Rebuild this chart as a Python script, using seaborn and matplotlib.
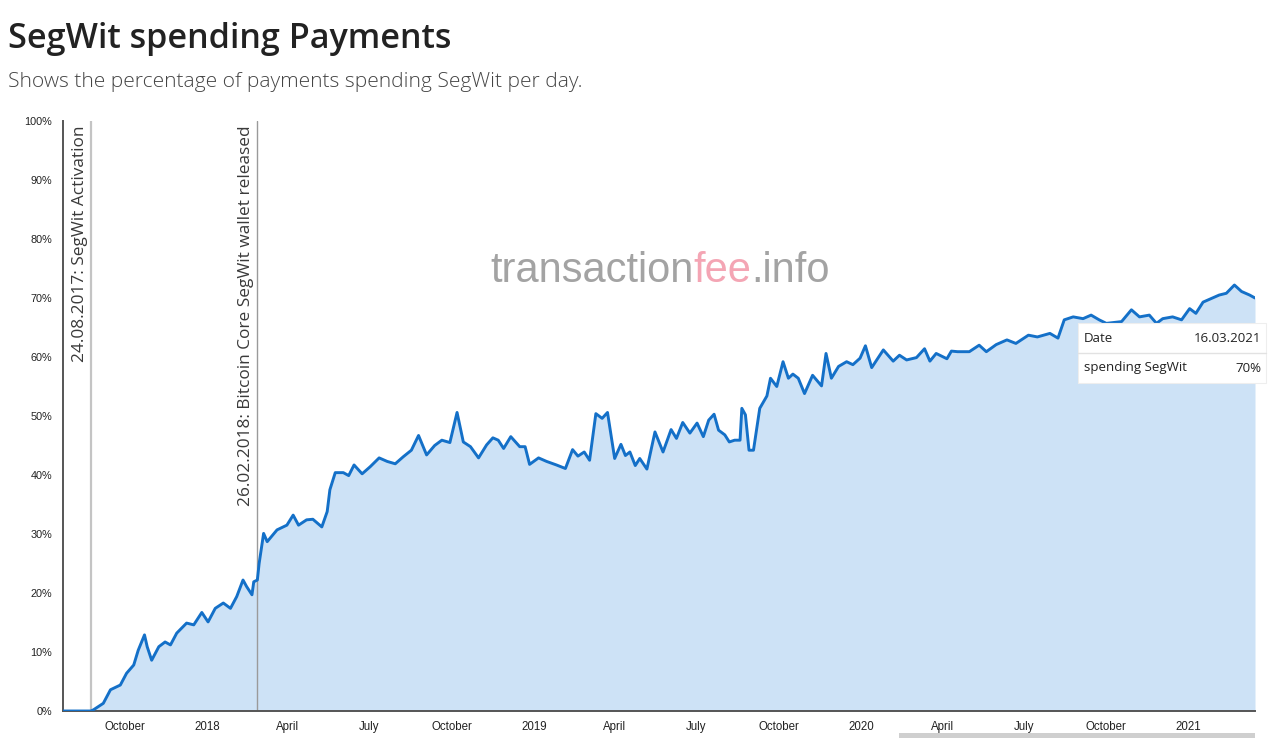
import matplotlib
matplotlib.use("Agg")
import matplotlib.pyplot as plt
import matplotlib.dates as mdates
from matplotlib.patches import Rectangle
from matplotlib.lines import Line2D
from matplotlib.ticker import FixedLocator, FixedFormatter
import pandas as pd
import seaborn as sns

# Share of daily payments spending SegWit outputs (%)
dates = [
    "2017-07-24", "2017-08-24", "2017-08-27", "2017-09-07", "2017-09-15", "2017-09-26",
    "2017-10-03", "2017-10-11", "2017-10-16", "2017-10-23", "2017-10-26", "2017-10-31",
    "2017-11-08", "2017-11-15", "2017-11-21", "2017-11-28", "2017-12-09", "2017-12-17",
    "2017-12-26", "2018-01-02", "2018-01-10", "2018-01-19", "2018-01-27", "2018-02-03",
    "2018-02-10", "2018-02-14", "2018-02-20", "2018-02-22", "2018-02-26", "2018-02-28",
    "2018-03-05", "2018-03-09", "2018-03-20", "2018-03-31", "2018-04-07", "2018-04-13",
    "2018-04-22", "2018-04-29", "2018-05-09", "2018-05-15", "2018-05-18", "2018-05-24",
    "2018-06-02", "2018-06-08", "2018-06-14", "2018-06-23", "2018-07-02", "2018-07-12",
    "2018-07-21", "2018-07-30", "2018-08-08", "2018-08-17", "2018-08-25", "2018-09-03",
    "2018-09-12", "2018-09-20", "2018-09-29", "2018-10-07", "2018-10-14", "2018-10-22",
    "2018-10-31", "2018-11-09", "2018-11-16", "2018-11-22", "2018-11-28", "2018-12-06",
    "2018-12-16", "2018-12-22", "2018-12-27", "2019-01-06", "2019-01-15", "2019-01-26",
    "2019-02-05", "2019-02-13", "2019-02-19", "2019-02-26", "2019-03-04", "2019-03-11",
    "2019-03-18", "2019-03-24", "2019-04-01", "2019-04-08", "2019-04-13", "2019-04-18",
    "2019-04-24", "2019-04-29", "2019-05-07", "2019-05-16", "2019-05-25", "2019-06-03",
    "2019-06-09", "2019-06-16", "2019-06-24", "2019-07-02", "2019-07-09", "2019-07-15",
    "2019-07-21", "2019-07-26", "2019-08-02", "2019-08-07", "2019-08-13", "2019-08-19",
    "2019-08-21", "2019-08-25", "2019-08-29", "2019-09-03", "2019-09-10", "2019-09-18",
    "2019-09-22", "2019-09-29", "2019-10-06", "2019-10-12", "2019-10-17", "2019-10-23",
    "2019-10-30", "2019-11-08", "2019-11-18", "2019-11-23", "2019-11-29", "2019-12-07",
    "2019-12-16", "2019-12-23", "2019-12-31", "2020-01-06", "2020-01-13", "2020-01-20",
    "2020-01-26", "2020-02-06", "2020-02-13", "2020-02-21", "2020-03-03", "2020-03-12",
    "2020-03-18", "2020-03-25", "2020-04-06", "2020-04-11", "2020-04-18", "2020-05-01",
    "2020-05-12", "2020-05-20", "2020-05-31", "2020-06-12", "2020-06-22", "2020-07-06",
    "2020-07-16", "2020-07-30", "2020-08-08", "2020-08-15", "2020-08-25", "2020-09-05",
    "2020-09-14", "2020-09-23", "2020-10-01", "2020-10-18", "2020-10-29", "2020-11-07",
    "2020-11-18", "2020-11-26", "2020-12-03", "2020-12-14", "2020-12-24", "2021-01-02",
    "2021-01-09", "2021-01-17", "2021-01-26", "2021-02-04", "2021-02-12", "2021-02-21",
    "2021-03-01", "2021-03-10", "2021-03-16",
]
segwit_pct = [
    0.0, 0.0, 0.2, 1.3, 3.6, 4.4,
    6.4, 7.8, 10.3, 12.9, 10.9, 8.6,
    10.9, 11.7, 11.2, 13.2, 14.9, 14.6,
    16.7, 15.1, 17.4, 18.3, 17.4, 19.4,
    22.2, 21.1, 19.7, 21.9, 22.2, 25.0,
    30.1, 28.7, 30.7, 31.5, 33.2, 31.5,
    32.4, 32.5, 31.2, 33.8, 37.5, 40.4,
    40.4, 39.9, 41.7, 40.2, 41.4, 42.9,
    42.3, 41.9, 43.1, 44.2, 46.7, 43.4,
    45.0, 45.9, 45.5, 50.6, 45.6, 44.8,
    42.9, 45.1, 46.3, 45.9, 44.5, 46.5,
    44.8, 44.8, 41.8, 42.9, 42.3, 41.7,
    41.1, 44.3, 43.2, 43.9, 42.5, 50.4,
    49.6, 50.6, 42.8, 45.2, 43.3, 43.9,
    41.6, 42.8, 41.0, 47.3, 43.9, 47.7,
    46.2, 48.9, 47.1, 48.8, 46.5, 49.3,
    50.3, 47.6, 46.8, 45.6, 45.9, 45.9,
    51.3, 50.2, 44.2, 44.2, 51.3, 53.4,
    56.4, 55.0, 59.2, 56.4, 57.1, 56.4,
    53.8, 56.9, 55.1, 60.6, 56.4, 58.4,
    59.2, 58.7, 59.8, 61.9, 58.2, 59.8,
    61.2, 59.3, 60.3, 59.5, 59.9, 61.4,
    59.3, 60.6, 59.7, 61.0, 60.9, 60.9,
    62.0, 60.9, 62.1, 62.9, 62.3, 63.7,
    63.4, 64.0, 63.2, 66.3, 66.8, 66.5,
    67.1, 66.3, 65.7, 66.0, 68.0, 66.8,
    67.1, 65.7, 66.5, 66.8, 66.3, 68.2,
    67.4, 69.3, 69.9, 70.5, 70.8, 72.2,
    71.1, 70.5, 70.0,
]

# Marked events
event_dates = ["2017-08-24", "2018-02-26"]
event_labels = ["24.08.2017: SegWit Activation", "26.02.2018: Bitcoin Core SegWit wallet released"]
event_colors = ["#c4c4c4", "#9a9a9a"]
event_widths = [1.6, 1.0]

# Quarterly x-axis ticks
tick_dates = ["2017-10-01", "2018-01-01", "2018-04-01", "2018-07-01", "2018-10-01",
              "2019-01-01", "2019-04-01", "2019-07-01", "2019-10-01", "2020-01-01",
              "2020-04-01", "2020-07-01", "2020-10-01", "2021-01-01"]
tick_labels = ["October", "2018", "April", "July", "October", "2019", "April", "July",
               "October", "2020", "April", "July", "October", "2021"]
y_ticks = [0, 10, 20, 30, 40, 50, 60, 70, 80, 90, 100]

df = pd.DataFrame({"date": pd.to_datetime(dates), "pct": segwit_pct})

sns.set_style("white")
plt.rcParams["font.family"] = ["Liberation Sans", "DejaVu Sans"]

W, H = 1273, 738
fig = plt.figure(figsize=(W / 100, H / 100), dpi=100)
fig.patch.set_facecolor("white")

ax = fig.add_axes([63 / W, (H - 711) / H, (1255 - 63) / W, (711 - 121) / H])

line_color = "#1470c8"
fill_color = "#cde2f6"

ax.fill_between(df["date"], 0, df["pct"], color=fill_color, linewidth=0, zorder=1)
sns.lineplot(data=df, x="date", y="pct", ax=ax, color=line_color, linewidth=2.1, zorder=3)

x0, x1 = pd.Timestamp("2017-07-24"), pd.Timestamp("2021-03-16")
ax.set_xlim(x0, x1)
ax.set_ylim(0, 100)

# Event markers with rotated captions
for d, lab, c, lw in zip(event_dates, event_labels, event_colors, event_widths):
    dt = pd.Timestamp(d)
    ax.axvline(dt, color=c, linewidth=lw, zorder=2)
    ax.annotate(lab, xy=(dt, 1.0), xycoords=("data", "axes fraction"),
                xytext=(-3, -4), textcoords="offset pixels",
                rotation=90, ha="right", va="top", fontsize=12.4,
                color="#3a3a3a", family=["Open Sans", "DejaVu Sans"], zorder=4)

# Axes styling
for s in ["top", "right"]:
    ax.spines[s].set_visible(False)
for s in ["left", "bottom"]:
    ax.spines[s].set_color("#555555")
    ax.spines[s].set_linewidth(1.4)

ax.xaxis.set_major_locator(FixedLocator([mdates.date2num(pd.Timestamp(t)) for t in tick_dates]))
ax.xaxis.set_major_formatter(FixedFormatter(tick_labels))
ax.yaxis.set_major_locator(FixedLocator(y_ticks))
ax.yaxis.set_major_formatter(FixedFormatter([f"{v}%" for v in y_ticks]))
ax.tick_params(axis="both", direction="out", length=5, width=1.1, color="#555555",
               labelsize=7.8, labelcolor="#222222", pad=3)
ax.tick_params(axis="x", pad=2, labelsize=8.3)
ax.set_xlabel("")
ax.set_ylabel("")
ax.grid(False)

# Title and description
fig.text(8 / W, 1 - 48 / H, "SegWit spending Payments", fontsize=24.6, fontweight="semibold",
         color="#222222", ha="left", va="baseline", family=["Open Sans", "DejaVu Sans"])
fig.text(8 / W, 1 - 87 / H, "Shows the percentage of payments spending SegWit per day.",
         fontsize=15.1, fontweight="light", color="#444444", ha="left", va="baseline",
         family=["Open Sans", "DejaVu Sans"])

# Overlay in pixel coordinates for watermark, hover box and scrollbar
ov = fig.add_axes([0, 0, 1, 1], zorder=10)
ov.set_xlim(0, W)
ov.set_ylim(H, 0)
ov.axis("off")
ov.patch.set_alpha(0)

fig.canvas.draw()
renderer = fig.canvas.get_renderer()
parts = [("transaction", "#a3a3a3", "normal"), ("fee", "#f4a5b4", "normal"), (".info", "#a3a3a3", "normal")]
xpos = 490
for txt, col, wt in parts:
    t = ov.text(xpos, 282, txt, fontsize=30, color=col, fontweight=wt, ha="left",
                va="baseline", family=["Liberation Sans", "DejaVu Sans"])
    bb = t.get_window_extent(renderer=renderer)
    xpos += bb.width

# Hover box for the last data point
last = df.iloc[-1]
ov.add_patch(Rectangle((1078, 323), 188, 60, facecolor="white", edgecolor="#eeeeee",
                       linewidth=0.8, zorder=1))
ov.add_line(Line2D([1078, 1266], [353, 353], color="#e2e2e2", linewidth=1, zorder=2))
tip_font = ["Open Sans", "DejaVu Sans"]
ov.text(1084, 339, "Date", fontsize=9.5, color="#222222", ha="left", va="center", family=tip_font, zorder=3)
ov.text(1261, 339, last["date"].strftime("%d.%m.%Y"), fontsize=9.5, color="#222222",
        ha="right", va="center", family=tip_font, zorder=3)
ov.text(1084, 368, "spending SegWit", fontsize=9.5, color="#222222", ha="left", va="center",
        family=tip_font, zorder=3)
ov.text(1261, 368, f"{last['pct']:.0f}%", fontsize=9.5, color="#222222", ha="right",
        va="center", family=tip_font, zorder=3)

# Scrollbar strip along the bottom edge
ov.add_patch(Rectangle((899, 733), 356, 6, facecolor="#cfcfcf", edgecolor="none", zorder=1))

fig.savefig("out.png", dpi=100, facecolor="white")
